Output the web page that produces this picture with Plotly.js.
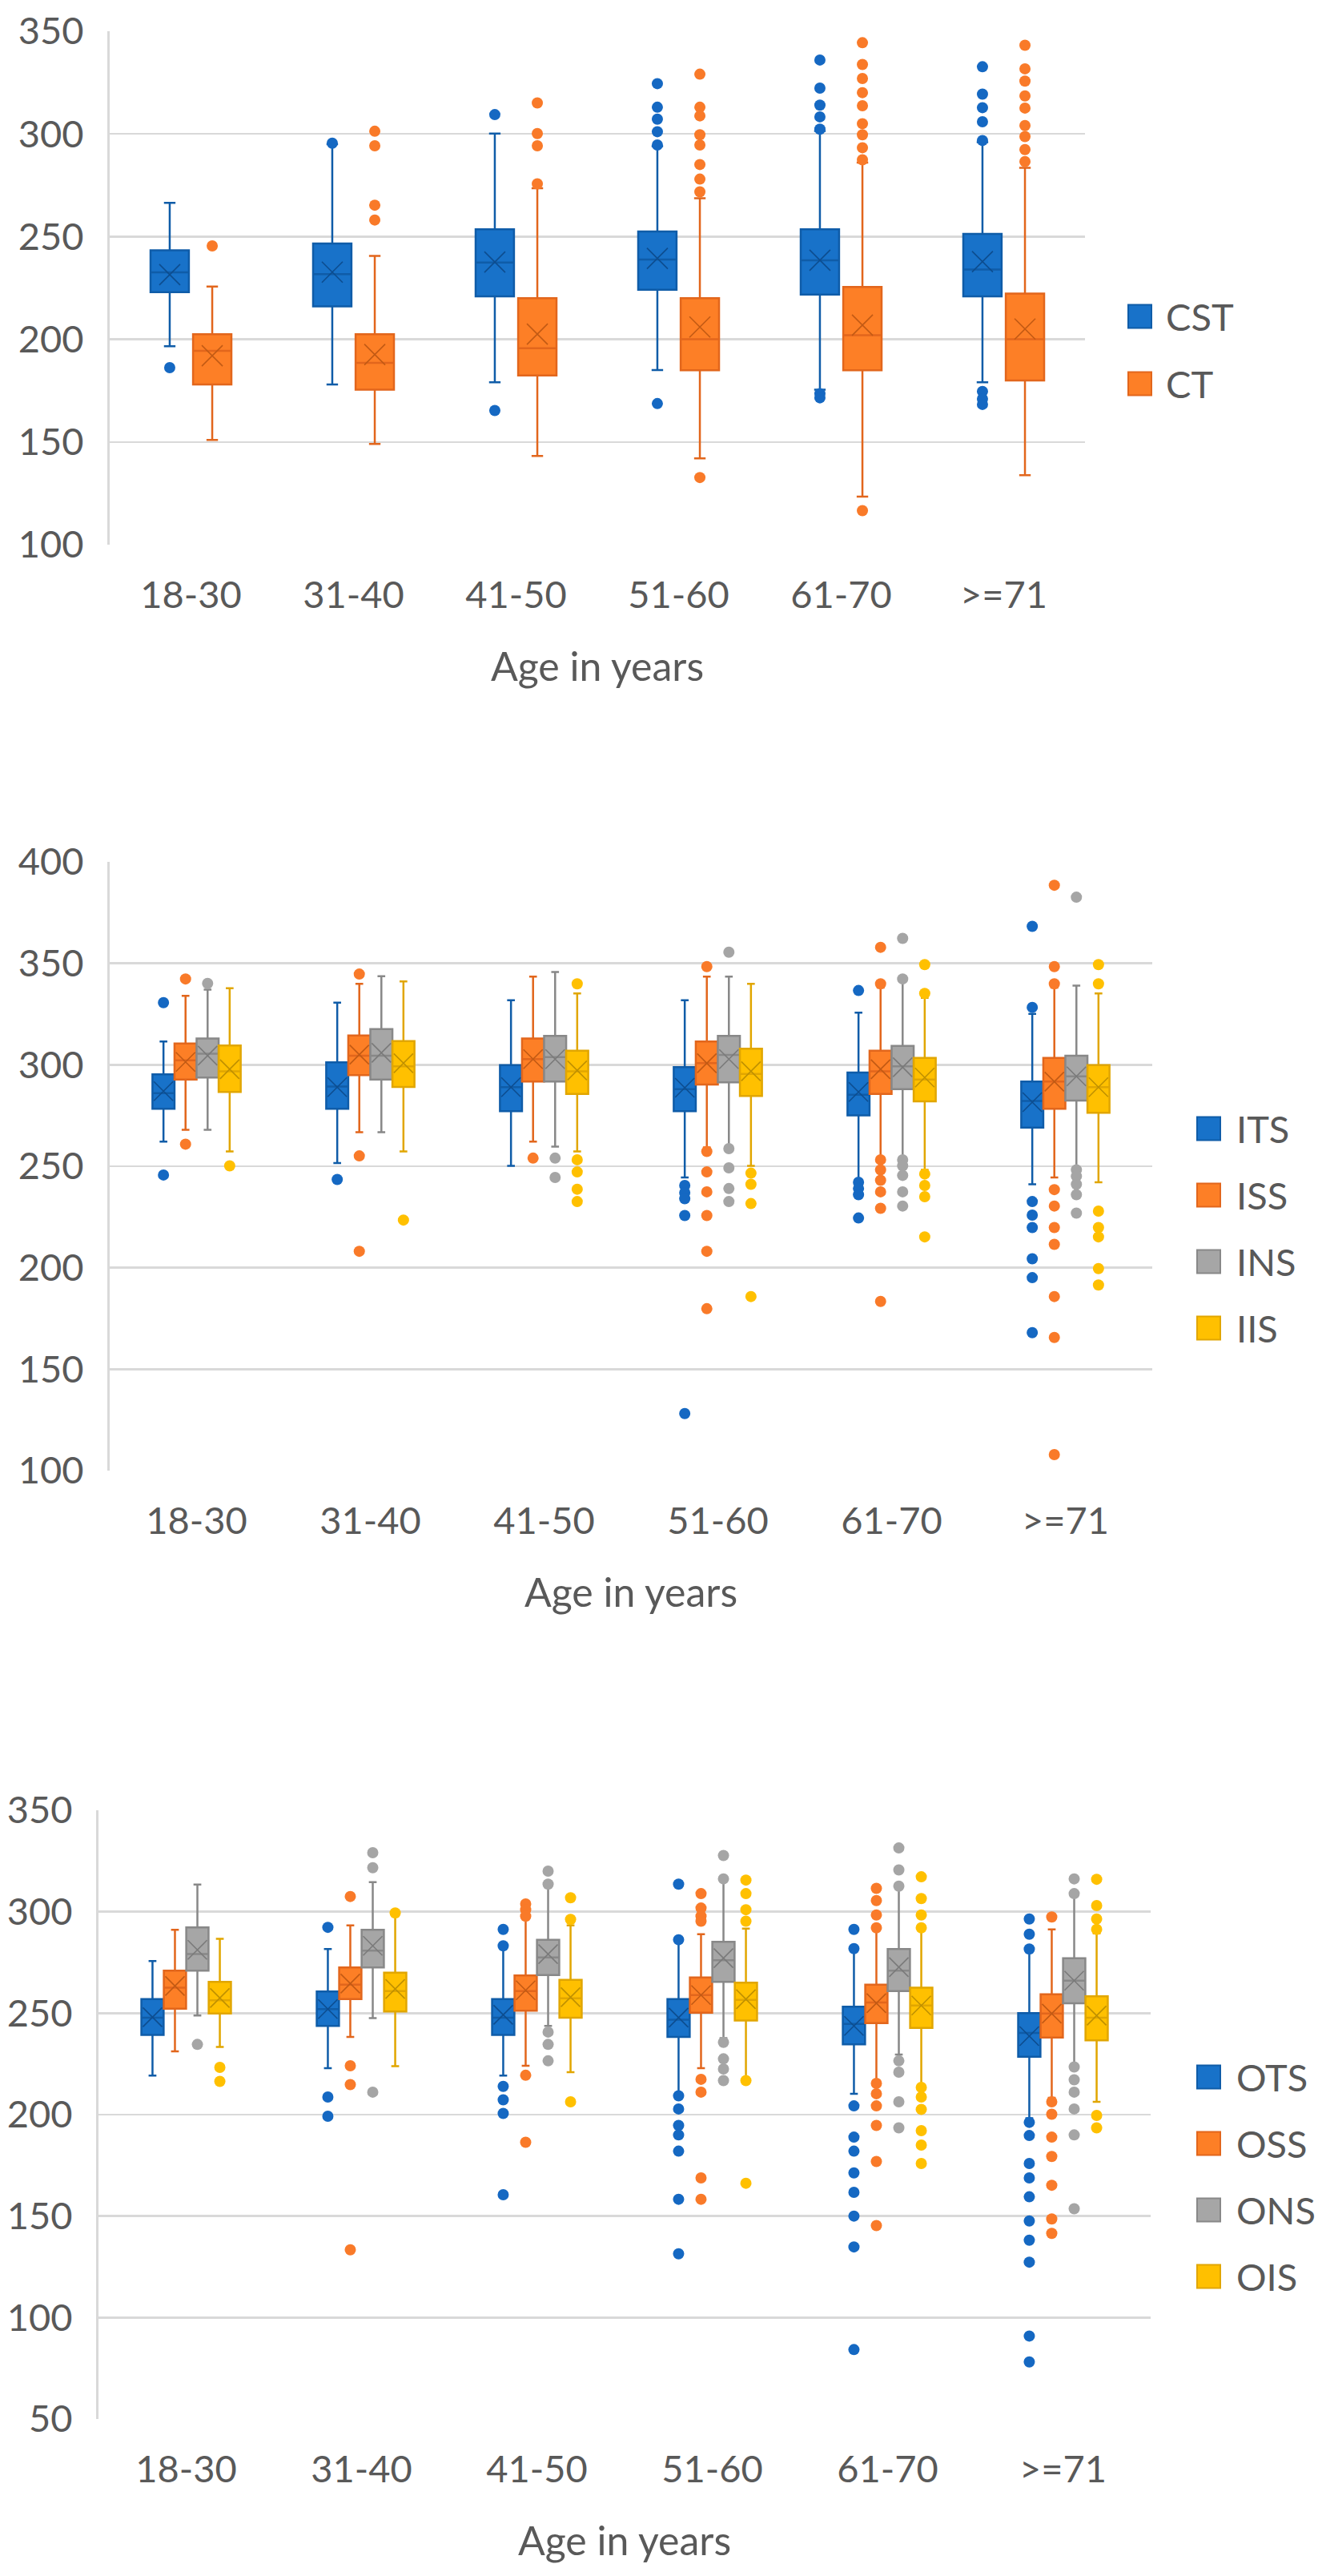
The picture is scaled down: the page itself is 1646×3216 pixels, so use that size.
<!DOCTYPE html>
<html>
<head>
<meta charset="utf-8">
<script src="https://cdn.plot.ly/plotly-3.0.1.min.js"></script>
<style>
html,body{margin:0;padding:0;background:#ffffff;}
#chart{width:1646px;height:3216px;}
</style>
</head>
<body>
<div id="chart"></div>
<script>
// ---------------- DATA ----------------
const ageGroups = ['18-30', '31-40', '41-50', '51-60', '61-70', '>=71'];
const xTitle = 'Age in years';

// Chart 1
const chart1Names = ['CST', 'CT'];
const CST = {
  q1:     [223.0, 216.0, 220.9, 224.1, 221.8, 220.9],
  median: [232.6, 231.7, 237.4, 238.8, 238.5, 234.0],
  q3:     [243.3, 246.6, 253.6, 252.5, 253.6, 251.3],
  lo:     [196.6, 178.0, 179.1, 185.0, 175.5, 179.1],
  hi:     [266.4, 295.0, 300.2, 294.0, 301.4, 296.0],
  mean:   [231.5, 232.7, 237.6, 239.4, 238.5, 237.8],
  out: [[186.2], [295.5], [309.4, 165.3],
        [324.5, 313.0, 307.2, 301.1, 294.6, 168.7],
        [336.0, 322.3, 314.0, 308.3, 302.3, 173.5, 171.5],
        [332.7, 319.4, 312.8, 305.9, 296.8, 174.6, 171.0, 168.3]]
};
const CT = {
  q1:     [178.0, 175.5, 182.4, 184.9, 184.9, 180.0],
  median: [194.4, 188.5, 195.7, 200.0, 202.0, 200.0],
  q3:     [202.5, 202.5, 220.0, 220.0, 225.5, 222.3],
  lo:     [151.0, 149.0, 143.2, 142.0, 123.4, 133.8],
  hi:     [225.7, 240.6, 273.6, 268.7, 286.0, 283.5],
  mean:   [192.0, 192.6, 202.5, 206.0, 206.9, 205.0],
  out: [[245.5], [301.3, 294.2, 265.3, 258.1], [315.1, 300.2, 294.2, 275.7],
        [329.1, 313.0, 308.8, 299.6, 294.6, 285.1, 278.0, 271.8, 132.7],
        [344.4, 333.8, 327.0, 320.1, 313.7, 305.0, 299.6, 293.3, 287.4, 116.6],
        [343.2, 331.7, 325.7, 318.5, 312.6, 304.1, 298.7, 292.4, 286.5]]
};

// Chart 2
const chart2Names = ['ITS', 'ISS', 'INS', 'IIS'];
const ITS = {
  q1:     [278.3, 278.3, 277.1, 277.1, 275.1, 269.0],
  median: [286.0, 289.3, 289.0, 288.0, 285.2, 282.2],
  q3:     [295.3, 301.2, 299.8, 298.8, 296.2, 291.7],
  lo:     [262.1, 251.6, 250.2, 244.5, 243.1, 241.1],
  hi:     [311.5, 330.6, 331.8, 331.8, 325.7, 325.1],
  mean:   [287.0, 289.0, 289.0, 288.7, 286.6, 281.6],
  out: [[330.6, 245.7], [243.5], [],
        [240.5, 237.0, 234.0, 225.7, 128.1],
        [336.6, 242.1, 239.0, 236.0, 224.5],
        [368.2, 328.3, 232.6, 225.9, 219.8, 204.4, 195.1, 168.0]]
};
const ISS = {
  q1:     [292.7, 294.9, 291.7, 290.3, 285.6, 278.3],
  median: [302.2, 304.5, 302.8, 300.8, 296.8, 291.7],
  q3:     [310.5, 314.4, 313.0, 311.5, 306.9, 303.4],
  lo:     [268.0, 266.8, 262.1, 259.3, 254.3, 244.5],
  hi:     [334.0, 339.9, 343.5, 343.5, 338.0, 338.0],
  mean:   [301.4, 305.0, 302.8, 300.8, 297.8, 291.7],
  out: [[342.3, 260.9], [344.7, 255.1, 208.1], [254.0],
        [348.4, 257.3, 247.2, 237.4, 225.7, 208.1, 179.8],
        [357.9, 339.9, 253.2, 248.2, 243.1, 237.4, 229.3, 183.4],
        [388.5, 348.4, 339.9, 238.5, 230.4, 219.8, 211.5, 185.8, 165.6, 107.9]]
};
const INS = {
  q1:     [293.7, 292.7, 291.7, 291.3, 288.0, 282.4],
  median: [305.5, 304.5, 303.8, 304.9, 299.2, 294.3],
  q3:     [313.0, 317.6, 314.2, 314.2, 309.3, 304.5],
  lo:     [268.0, 266.8, 259.7, 259.9, 254.3, 249.2],
  hi:     [337.0, 343.7, 345.7, 343.5, 341.0, 339.0],
  mean:   [304.5, 305.9, 302.8, 302.8, 298.8, 294.3],
  out: [[340.1], [], [254.0, 244.5],
        [355.5, 258.7, 249.2, 239.0, 232.6],
        [362.3, 342.3, 253.2, 250.2, 245.5, 237.4, 230.4],
        [382.6, 248.2, 245.1, 241.1, 236.0, 226.9]]
};
const IIS = {
  q1:     [286.6, 289.1, 285.6, 284.6, 282.0, 276.3],
  median: [296.8, 299.2, 296.8, 295.5, 292.7, 289.0],
  q3:     [309.5, 311.7, 306.9, 307.9, 303.4, 299.8],
  lo:     [257.3, 257.3, 257.3, 250.2, 248.2, 242.1],
  hi:     [337.7, 341.1, 335.2, 339.9, 333.0, 335.2],
  mean:   [297.8, 300.8, 297.2, 296.8, 293.7, 289.0],
  out: [[250.2], [223.5], [339.9, 253.2, 247.2, 238.7, 232.6],
        [246.6, 241.1, 231.6, 185.8],
        [349.4, 335.2, 246.2, 240.5, 235.0, 215.2],
        [349.4, 339.9, 227.9, 219.8, 215.2, 199.6, 191.5]]
};

// Chart 3
const chart3Names = ['OTS', 'OSS', 'ONS', 'OIS'];
const OTS = {
  q1:     [239.3, 243.7, 239.3, 238.3, 234.6, 228.5],
  median: [247.8, 252.0, 247.8, 246.8, 244.7, 240.3],
  q3:     [256.9, 260.7, 256.9, 256.9, 253.2, 250.0],
  lo:     [219.2, 222.9, 219.2, 210.3, 210.3, 198.2],
  hi:     [275.7, 281.6, 282.8, 286.2, 281.2, 281.2],
  mean:   [248.0, 252.0, 249.2, 247.8, 243.7, 238.7],
  out: [[], [292.3, 208.7, 199.2],
        [291.3, 283.2, 213.9, 207.3, 200.6, 160.5],
        [313.6, 286.2, 209.3, 202.8, 194.7, 190.0, 182.0, 158.3, 131.4],
        [291.3, 281.8, 204.3, 188.9, 182.0, 171.3, 161.7, 150.0, 134.8, 84.2],
        [296.4, 288.9, 281.6, 196.2, 189.7, 175.9, 168.8, 159.5, 147.6, 138.1, 127.3, 90.9, 78.1]]
};
const OSS = {
  q1:     [252.2, 256.9, 251.2, 250.2, 245.1, 238.0],
  median: [262.6, 264.0, 260.9, 258.9, 255.3, 249.8],
  q3:     [271.0, 272.5, 268.6, 267.6, 264.0, 259.3],
  lo:     [231.2, 238.3, 224.1, 222.9, 216.8, 208.3],
  hi:     [291.1, 293.3, 297.4, 288.9, 291.3, 291.3],
  mean:   [263.4, 264.6, 261.3, 258.9, 254.9, 249.8],
  out: [[], [307.5, 224.1, 214.8, 133.4],
        [303.8, 301.0, 297.8, 219.4, 186.4],
        [308.9, 301.8, 297.8, 295.3, 217.4, 211.1, 168.8, 158.3],
        [311.5, 305.5, 298.4, 292.1, 215.4, 210.3, 204.3, 194.7, 176.9, 145.3],
        [297.4, 206.3, 200.2, 188.9, 179.4, 165.2, 148.6, 141.5]]
};
const ONS = {
  q1:     [271.0, 272.5, 268.8, 265.4, 260.9, 254.9],
  median: [279.1, 280.8, 277.5, 276.1, 271.0, 266.0],
  q3:     [292.3, 291.1, 286.2, 285.2, 281.6, 277.1],
  lo:     [248.8, 247.6, 243.7, 237.7, 229.6, 224.5],
  hi:     [313.4, 314.6, 312.6, 315.6, 311.9, 307.5],
  mean:   [281.2, 283.2, 279.1, 277.1, 272.7, 266.0],
  out: [[234.6], [329.1, 321.7, 211.1],
        [320.0, 313.6, 240.7, 234.6, 226.5],
        [327.7, 316.2, 235.6, 227.5, 222.5, 216.8],
        [331.4, 320.6, 312.6, 226.5, 220.9, 206.3, 193.5],
        [316.2, 308.9, 223.5, 217.2, 211.1, 202.8, 190.0, 153.6]]
};
const OIS = {
  q1:     [249.8, 250.8, 247.8, 246.4, 242.7, 236.6],
  median: [256.3, 260.9, 257.3, 256.5, 253.8, 247.8],
  q3:     [265.4, 270.0, 266.4, 265.0, 262.6, 258.3],
  lo:     [233.4, 223.9, 220.9, 217.2, 214.4, 206.3],
  hi:     [286.6, 298.0, 293.3, 291.7, 291.3, 289.3],
  mean:   [257.5, 261.9, 257.9, 256.9, 253.8, 248.8],
  out: [[223.3, 216.4], [299.4], [306.9, 296.2, 206.3],
        [315.6, 308.9, 301.0, 295.3, 216.8, 166.2],
        [317.2, 306.5, 298.4, 292.1, 213.4, 208.7, 202.6, 192.1, 185.0, 175.9],
        [316.0, 303.0, 296.4, 291.3, 199.6, 193.5]]
};

// ---------------- STYLE ----------------
const W = 1646, H = 3216;
const FONT = 'Lato, "Open Sans", "DejaVu Sans", sans-serif';
const FS = 47;
const TXT = '#595959';
const GRID = '#d9d9d9';
const styles = [
  {fill: '#1872c9', line: '#0f5ca8', dot: '#1568c2', mean: '#0d4d8f'},
  {fill: '#fd7f26', line: '#e2661c', dot: '#f97a29', mean: '#c25a14'},
  {fill: '#a6a6a6', line: '#888888', dot: '#a5a5a5', mean: '#7a7a7a'},
  {fill: '#ffc000', line: '#e1a600', dot: '#ffc000', mean: '#bf9000'}
];
const px = v => v / W;
const py = v => 1 - v / H;

// chart frames (pixel positions)
const frames = [
  {ax: '', series: [CST, CT], names: chart1Names, x0: 137, x1: 1355, y0: 39, y1: 680, range: [100, 350],
   step: 0.2615, boxW: 0.236, whisk: 0.3, meanSize: 26,
   legX: 1409, legTx: 1454, legY: 395, legStep: 84},
  {ax: '2', series: [ITS, ISS, INS, IIS], names: chart2Names, x0: 137, x1: 1439, y0: 1076, y1: 1836, range: [100, 400],
   step: 0.127, boxW: 0.127, whisk: 0.35, meanSize: 24,
   legX: 1495, legTx: 1542, legY: 1409, legStep: 83},
  {ax: '3', series: [OTS, OSS, ONS, OIS], names: chart3Names, x0: 123, x1: 1437, y0: 2260, y1: 3020, range: [50, 350],
   step: 0.128, boxW: 0.127, whisk: 0.35, meanSize: 24,
   legX: 1495, legTx: 1542, legY: 2593, legStep: 83}
];

const traces = [];
const shapes = [];
const annotations = [];
const layout = {
  width: W, height: H,
  margin: {l: 0, r: 0, t: 0, b: 0, pad: 0},
  paper_bgcolor: '#ffffff', plot_bgcolor: '#ffffff',
  showlegend: false, hovermode: false,
  font: {family: FONT, size: FS, color: TXT}
};

frames.forEach(fr => {
  const n = fr.series.length;
  const xa = 'x' + fr.ax, ya = 'y' + fr.ax;
  fr.series.forEach((s, k) => {
    const st = styles[k];
    const off = (k - (n - 1) / 2) * fr.step;
    const xs = ageGroups.map((_, i) => i + off);
    traces.push({
      type: 'box', name: fr.names[k], xaxis: xa, yaxis: ya,
      x: xs, q1: s.q1, median: s.median, q3: s.q3,
      lowerfence: s.lo, upperfence: s.hi,
      width: fr.boxW, whiskerwidth: fr.whisk, boxpoints: false,
      fillcolor: st.fill, line: {color: st.line, width: 2.5}
    });
    traces.push({
      type: 'scatter', mode: 'markers', name: fr.names[k] + ' mean', xaxis: xa, yaxis: ya,
      x: xs, y: s.mean,
      marker: {symbol: 'x-thin-open', size: fr.meanSize, color: st.mean, line: {color: st.mean, width: 1.6}}
    });
    const ox = [], oy = [];
    s.out.forEach((arr, i) => arr.forEach(v => { ox.push(i + off); oy.push(v); }));
    traces.push({
      type: 'scatter', mode: 'markers', name: fr.names[k] + ' outliers', xaxis: xa, yaxis: ya,
      x: ox, y: oy,
      marker: {symbol: 'circle', size: 14, color: st.dot, line: {width: 0}}
    });
    // legend entry
    const cy = fr.legY + k * fr.legStep;
    shapes.push({type: 'rect', xref: 'paper', yref: 'paper',
      x0: px(fr.legX), x1: px(fr.legX + 29), y0: py(cy + 14.5), y1: py(cy - 14.5),
      fillcolor: st.fill, line: {color: st.line, width: 2}});
    annotations.push({xref: 'paper', yref: 'paper', x: px(fr.legTx), y: py(cy),
      xanchor: 'left', yanchor: 'middle', showarrow: false, text: fr.names[k],
      font: {family: FONT, size: FS, color: TXT}});
  });
  layout['xaxis' + fr.ax] = {
    domain: [px(fr.x0), px(fr.x1)], anchor: ya, range: [-0.5, 5.5],
    tickmode: 'array', tickvals: ageGroups.map((_, i) => i), ticktext: ageGroups,
    showgrid: false, zeroline: false, showline: false, ticks: '',
    ticklabelstandoff: 31,
    tickfont: {family: FONT, size: FS, color: TXT},
    title: {text: xTitle, standoff: 46, font: {family: FONT, size: 50, color: TXT}}
  };
  layout['yaxis' + fr.ax] = {
    domain: [py(fr.y1), py(fr.y0)], anchor: xa, range: fr.range,
    tickmode: 'linear', tick0: 0, dtick: 50,
    showgrid: true, gridcolor: GRID, gridwidth: 2.5,
    zeroline: false, showline: true, linecolor: GRID, linewidth: 3,
    ticks: '', ticklabelstandoff: 20,
    tickfont: {family: FONT, size: FS, color: TXT}
  };
});
layout.shapes = shapes;
layout.annotations = annotations;

Plotly.newPlot('chart', traces, layout, {staticPlot: true, displayModeBar: false});
</script>
</body>
</html>
